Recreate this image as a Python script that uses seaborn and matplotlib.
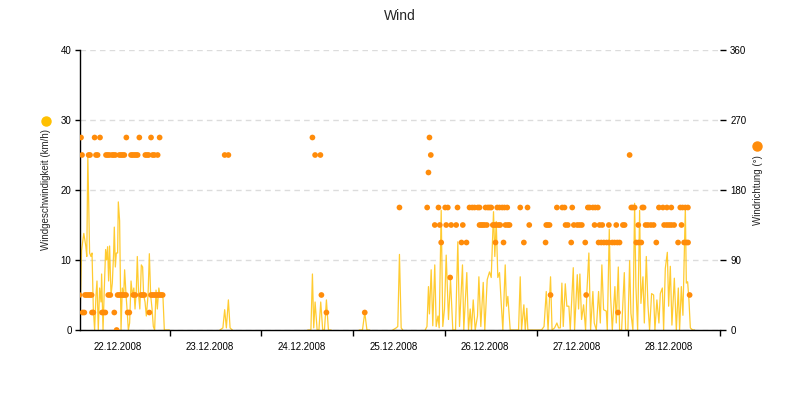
import numpy as np
import pandas as pd
import matplotlib
matplotlib.use("Agg")
import matplotlib.pyplot as plt
import seaborn as sns
from matplotlib.lines import Line2D
from matplotlib.ticker import FixedLocator, FixedFormatter, NullFormatter

TITLE = "Wind"
Y_LABEL_LEFT = "Windgeschwindigkeit (km/h)"
Y_LABEL_RIGHT = "Windrichtung (°)"
DAY_LABELS = ["22.12.2008", "23.12.2008", "24.12.2008", "25.12.2008",
              "26.12.2008", "27.12.2008", "28.12.2008"]
SPEED_TICKS = [0, 10, 20, 30, 40]
DIR_TICKS = [0, 90, 180, 270, 360]

# wind speed readings: (hours since 22.12.2008 00:00, km/h), one list per contiguous segment
SPEED_SEG_1 = [(0.54, 1.0), (0.96, 11.4), (1.54, 13.8), (2.06, 12), (2.32, 10.5), (2.59, 25),
               (3.06, 11), (3.42, 10.5), (3.69, 11), (4.03, 3), (4.37, 0), (4.73, 5), (4.99, 7),
               (5.33, 0), (5.68, 6), (6.04, 4), (6.20, 8), (6.57, 0), (6.91, 6), (7.25, 11.5),
               (7.51, 10), (7.77, 11.9), (8.03, 7), (8.29, 12), (8.66, 5), (9.00, 6.7), (9.34, 11),
               (9.52, 14.7), (9.79, 9), (10.05, 11), (10.39, 11), (10.57, 18.3), (10.91, 15.6),
               (11.28, 0), (11.62, 6), (11.96, 4.7), (12.22, 8.6), (12.59, 5), (12.85, 3),
               (13.19, 0), (13.53, 1), (13.90, 7), (14.24, 5), (14.63, 6), (14.94, 3), (15.28, 5.7),
               (15.54, 10.5), (15.88, 5), (16.20, 3), (16.59, 9.3), (16.93, 9), (17.19, 5),
               (17.56, 4), (17.90, 2), (18.35, 5), (18.69, 10.9), (19.03, 5), (19.40, 3),
               (19.73, 0.5), (20.07, 0), (20.44, 5.7), (20.78, 3), (21.17, 6), (21.49, 5),
               (21.83, 5.3), (22.27, 4.5), (22.61, 0), (23.14, 0), (23.92, 0)]
SPEED_SEG_2 = [(37.14, 0), (37.93, 0.3), (38.40, 2.9), (38.84, 0.3), (39.37, 4.3), (39.81, 0.3),
               (40.41, 0)]
SPEED_SEG_3 = [(60.13, 0), (60.96, 0), (61.36, 8.0), (61.70, 0.3), (62.06, 4.0), (62.59, 0),
               (63.06, 0), (63.53, 4.0), (64.05, 0), (64.50, 0), (65.02, 4.3), (65.54, 0),
               (66.25, 0)]
SPEED_SEG_4 = [(73.58, 0), (74.45, 0), (75.05, 2.5), (75.62, 0), (76.36, 0)]
SPEED_SEG_5 = [(82.38, 0), (83.27, 0.3), (83.69, 0.5), (84.13, 10.8), (84.58, 0.3), (85.0, 0)]
SPEED_SEG_6 = [(90.86, 0), (91.33, 0.5), (91.72, 6.2), (91.98, 2.3), (92.43, 8.6), (92.85, 0.6),
               (93.37, 9.3), (93.74, 0.5), (94.21, 2.0), (94.52, 0.3), (95.05, 17.1), (95.47, 0.5),
               (95.91, 3.0), (96.36, 10.7), (96.96, 1.5), (97.49, 7.2), (98.09, 0), (98.80, 0),
               (99.40, 12.6), (99.84, 0.5), (100.62, 9.3), (100.96, 0), (101.75, 8.2), (102.19, 0),
               (102.64, 3.0), (102.98, 0), (103.43, 4.3), (103.95, 0), (104.55, 2.0), (104.91, 7.6),
               (105.42, 0.5), (106.05, 6.8), (106.46, 0), (107.09, 7.2), (107.69, 8.3),
               (108.14, 7.5), (108.74, 16.9), (109.08, 10.5), (109.45, 15.5), (109.87, 7.5),
               (110.31, 8.2), (110.76, 3.8), (111.18, 0), (111.80, 9.3), (112.14, 3.4),
               (112.49, 4.8), (113.11, 0), (115.29, 0), (115.73, 7.6), (116.07, 0), (116.68, 3.6),
               (117.04, 0), (117.46, 3.1), (117.72, 0), (121.30, 0), (121.96, 0.5), (122.54, 5.5),
               (123.01, 0), (123.66, 7.6), (124.06, 0), (124.71, 0.3), (125.32, 1.0),
               (125.76, 0.3), (126.21, 0.3), (126.63, 6.7), (126.99, 0.5), (127.52, 6.6),
               (127.93, 3.4), (128.46, 3.4), (128.82, 0), (129.61, 8.9), (129.95, 0),
               (130.66, 7.9), (131.00, 3.0), (131.34, 8.0), (131.78, 1.5), (132.31, 3.6),
               (132.83, 0), (133.17, 5.5), (133.69, 11.0), (134.14, 0), (134.74, 5.5),
               (135.10, 1.0), (135.63, 0), (136.23, 5.5), (136.68, 1.0), (137.09, 9.3),
               (137.54, 2.9), (138.25, 2.7), (138.51, 0), (139.03, 14.4), (139.37, 4.8),
               (139.82, 0), (140.50, 6.2), (140.86, 1.0), (141.39, 9.0), (141.73, 0), (142.26, 0),
               (142.96, 8.2), (143.30, 0), (143.90, 0), (144.35, 9.9), (144.69, 2.4), (145.21, 0),
               (145.66, 18.1), (146.00, 6.2), (146.45, 0), (146.97, 17.1), (147.31, 3.8),
               (147.84, 7.6), (148.20, 1.0), (148.72, 10.5), (149.14, 3.6), (149.58, 0),
               (150.10, 5.2), (150.63, 5.0), (150.97, 0), (151.49, 4.3), (152.02, 1.0),
               (152.38, 5.2), (152.91, 6.0), (153.25, 0), (153.69, 8.8), (154.22, 11.1),
               (154.56, 3.4), (155.00, 9.1), (155.42, 0.7), (156.05, 7.4), (156.57, 0),
               (157.09, 6.0), (157.43, 0), (157.88, 6.2), (158.30, 2.1), (158.93, 17.6),
               (159.19, 6.7), (159.53, 6.9), (159.87, 4.3), (160.24, 0.3), (160.84, 0),
               (161.36, 0)]

# wind direction readings: hours since 22.12.2008 00:00, grouped by compass value (degrees)
DIR_000 = [10.13]
DIR_022 = [1.23, 1.67, 3.69, 4.03, 6.30, 6.72, 7.17, 9.52, 13.01, 13.45, 18.69,
           65.02, 75.05, 141.31]
DIR_045 = [0.36, 1.85, 2.27, 2.72, 3.16, 3.58, 7.95, 8.48, 10.39, 10.83, 11.28, 11.70, 12.14,
           12.59, 14.50, 15.02, 16.51, 16.93, 17.38, 19.13, 19.55, 19.99, 20.44, 20.86, 21.30,
           21.75, 22.17, 63.71, 123.66, 132.99, 160.05]
DIR_067 = [97.40]
DIR_112 = [95.05, 100.36, 101.67, 109.26, 111.36, 116.68, 122.36, 129.07, 132.74, 136.23,
           136.93, 137.61, 138.32, 138.92, 139.81, 140.41, 141.12, 141.72, 146.09, 146.69,
           147.40, 151.33, 157.03, 158.60, 159.22, 159.64]
DIR_135 = [93.37, 94.68, 96.36, 97.66, 98.97, 100.70, 105.08, 105.52, 105.94, 106.38, 106.99,
           108.56, 109.00, 109.45, 110.05, 110.49, 111.88, 112.49, 112.93, 118.09, 122.54,
           122.96, 123.40, 127.59, 128.19, 129.76, 130.65, 131.25, 131.85, 135.18, 136.49,
           137.19, 138.92, 140.86, 142.59, 143.04, 146.62, 148.53, 149.13, 149.92, 150.63,
           153.38, 154.09, 154.70, 155.30, 156.00, 157.93]
DIR_157 = [84.13, 91.38, 94.34, 96.10, 96.78, 99.32, 102.46, 103.17, 103.77, 104.63, 105.08,
           106.65, 107.25, 107.70, 108.14, 109.71, 110.31, 111.02, 111.62, 112.33, 115.73,
           117.64, 125.32, 126.72, 127.32, 129.34, 133.42, 133.87, 134.73, 135.36, 136.04,
           144.79, 145.21, 145.66, 147.67, 148.01, 152.02, 153.06, 154.11, 155.26, 157.61,
           158.21, 158.92, 159.60]
DIR_202 = [91.72]
DIR_225 = [1.07, 2.80, 3.16, 4.73, 5.15, 7.35, 7.77, 8.21, 8.92, 9.34, 9.79, 10.83, 11.28,
           11.70, 12.14, 13.90, 14.31, 14.76, 15.20, 15.62, 17.64, 18.08, 18.50, 19.55, 19.99,
           20.86, 38.40, 39.37, 62.06, 63.45, 92.33, 144.35]
DIR_247 = [0.81, 4.37, 5.78, 12.67, 16.07, 19.13, 21.38, 61.36, 91.98]

# ---------- build tables ----------
segments = [SPEED_SEG_1, SPEED_SEG_2, SPEED_SEG_3, SPEED_SEG_4, SPEED_SEG_5, SPEED_SEG_6]
rows = []
for i, seg in enumerate(segments):
    for h, v in seg:
        rows.append({"hours": h, "speed": v, "segment": i})
speed_df = pd.DataFrame(rows)

dir_groups = [(0.0, DIR_000), (22.5, DIR_022), (45.0, DIR_045), (67.5, DIR_067),
              (112.5, DIR_112), (135.0, DIR_135), (157.5, DIR_157), (202.5, DIR_202),
              (225.0, DIR_225), (247.5, DIR_247)]
drows = []
for deg, hrs in dir_groups:
    for h in hrs:
        drows.append({"hours": h, "direction": deg})
dir_df = pd.DataFrame(drows)

# ---------- style ----------
sns.set_style("white")
plt.rcParams["font.family"] = ["Liberation Sans", "DejaVu Sans"]

LINE_COLOR = "#FFC61A"
DOT_COLOR = "#FF8C0A"

fig = plt.figure(figsize=(8, 4), dpi=100)
ax = fig.add_axes([0.1, 0.175, 0.8, 0.7])

sns.lineplot(data=speed_df, x="hours", y="speed", units="segment", estimator=None,
             color=LINE_COLOR, linewidth=0.9, alpha=0.9, ax=ax, legend=False)

ax2 = ax.twinx()
sns.scatterplot(data=dir_df, x="hours", y="direction", color=DOT_COLOR, s=17,
                edgecolor="none", linewidth=0, ax=ax2, legend=False, zorder=3)

xmin, xmax = 0.545, 168.0
ax.set_xlim(xmin, xmax)
ax2.set_xlim(xmin, xmax)
ax.set_ylim(SPEED_TICKS[0], SPEED_TICKS[-1])
ax2.set_ylim(DIR_TICKS[0], DIR_TICKS[-1])

# grid
ax.set_yticks(SPEED_TICKS)
ax.yaxis.grid(True, color="#DCDCDC", linestyle=(0, (4, 3)), linewidth=1)
ax.xaxis.grid(False)
ax.set_axisbelow(True)
ax2.grid(False)

# spines
for s in ["top", "right"]:
    ax.spines[s].set_visible(False)
for s in ["left", "bottom"]:
    ax.spines[s].set_color("black")
    ax.spines[s].set_linewidth(1)
for s in ax2.spines.values():
    s.set_visible(False)

# x ticks: midnight marks, labels at mid-day
ax.xaxis.set_major_locator(FixedLocator([24 * (i + 1) for i in range(len(DAY_LABELS))]))
ax.xaxis.set_major_formatter(NullFormatter())
ax.xaxis.set_minor_locator(FixedLocator([24 * i + 10.5 for i in range(len(DAY_LABELS))]))
ax.xaxis.set_minor_formatter(FixedFormatter(DAY_LABELS))
ax.tick_params(axis="x", which="major", direction="out", length=4, width=1, color="black",
               bottom=True)
ax.tick_params(axis="x", which="minor", length=0, pad=8.5, labelsize=7, labelcolor="black",
               bottom=True)

ax.tick_params(axis="y", which="major", direction="out", length=3.6, width=1, color="black",
               pad=2.5, labelsize=7, labelcolor="black", left=True)
ax.set_yticklabels([str(t) for t in SPEED_TICKS])

ax2.set_yticks(DIR_TICKS)
ax2.set_yticklabels([str(t) for t in DIR_TICKS])
ax2.tick_params(axis="y", which="major", direction="out", length=4.3, width=1, color="black",
                pad=3, labelsize=7, labelcolor="black", right=True)

ax.set_xlabel("")
ax.set_ylabel("")
ax2.set_xlabel("")
ax2.set_ylabel("")

# title and axis titles with marker bullets
fig.text(0.5, 1 - 16 / 400, TITLE, ha="center", va="center", fontsize=10)
fig.text(45.7 / 800, 1 - 190 / 400, Y_LABEL_LEFT, rotation=90, ha="center", va="center",
         fontsize=7)
fig.text(758 / 800, 1 - 190 / 400, Y_LABEL_RIGHT, rotation=90, ha="center", va="center",
         fontsize=7)
fig.add_artist(Line2D([45.5 / 800], [1 - 121 / 400], marker="o", markersize=6.5,
                      color="#FFC000", linestyle="none", transform=fig.transFigure))
fig.add_artist(Line2D([757 / 800], [1 - 146 / 400], marker="o", markersize=6.5,
                      color=DOT_COLOR, linestyle="none", transform=fig.transFigure))

fig.savefig("out.png", dpi=100)
